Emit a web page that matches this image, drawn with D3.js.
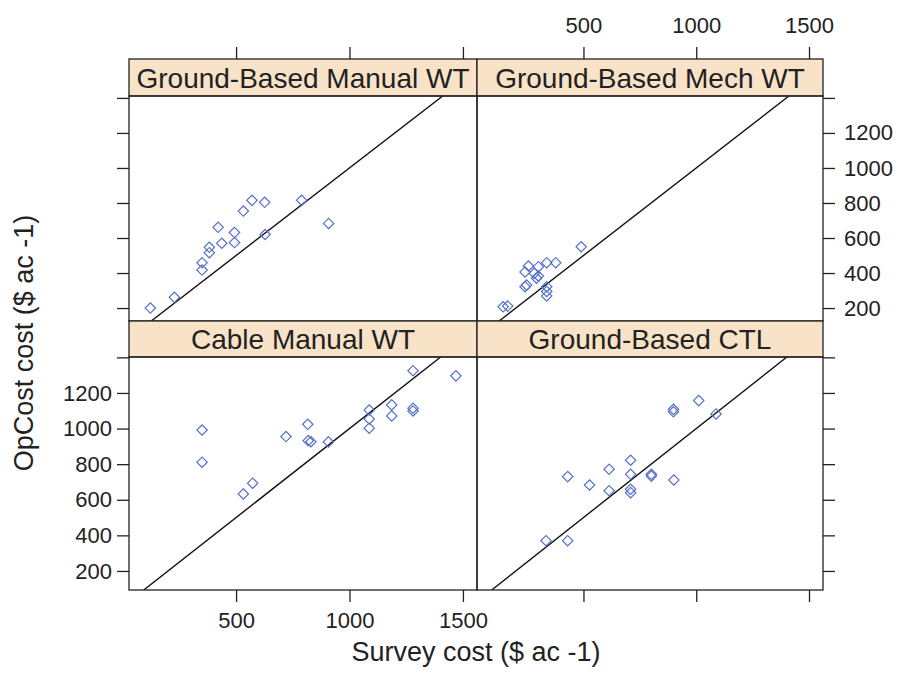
<!DOCTYPE html>
<html>
<head>
<meta charset="utf-8">
<script src="https://cdn.jsdelivr.net/npm/d3@7"></script>
<style>
  body { margin: 0; background: #fff; }
  svg text { font-family: "Liberation Sans", Arial, sans-serif; fill: #222; }
</style>
</head>
<body>
<div id="chart"></div>
<script>
// panel titles, in lattice order (top-left, top-right, bottom-left, bottom-right)
const panelNames = ["Ground-Based Manual WT", "Ground-Based Mech WT", "Cable Manual WT", "Ground-Based CTL"];

// survey cost (x) and OpCost cost (y), $ per acre
const gbManualSurvey = [122, 228, 350, 350, 382, 382, 421, 437, 493, 493, 532, 570, 626, 628, 789, 908];
const gbManualOpCost = [200, 261, 417, 459, 516, 547, 661, 570, 574, 631, 754, 815, 804, 620, 815, 683];

const gbMechSurvey = [144, 164, 241, 248, 241, 256, 282, 292, 300, 337, 377, 337, 337, 337, 490, 300];
const gbMechOpCost = [207, 211, 322, 331, 406, 440, 398, 370, 436, 459, 459, 322, 295, 269, 550, 383];

const cableManualSurvey = [350, 350, 532, 573, 720, 816, 818, 830, 907, 1087, 1087, 1087, 1186, 1186, 1280, 1280, 1280, 1469];
const cableManualOpCost = [992, 811, 633, 693, 955, 1024, 932, 926, 925, 1104, 1054, 1002, 1133, 1071, 1325, 1114, 1099, 1296];

const gbCtlSurvey = [334, 430, 430, 527, 614, 614, 709, 709, 709, 709, 801, 801, 901, 899, 899, 1011, 1088];
const gbCtlOpCost = [370, 370, 730, 683, 771, 651, 822, 743, 659, 640, 743, 733, 711, 1108, 1094, 1157, 1082];

const xTicks = [500, 1000, 1500];
const yTicks = [200, 400, 600, 800, 1000, 1200, 1400];
const yTickLabels = [200, 400, 600, 800, 1000, 1200];

const panelData = [
    [gbManualSurvey, gbManualOpCost],
    [gbMechSurvey, gbMechOpCost],
    [cableManualSurvey, cableManualOpCost],
    [gbCtlSurvey, gbCtlOpCost]
];

const width = 904, height = 673;
const cols = [[129, 477], [477, 823]];
const rows = [
    { strip: [59, 96], plot: [96, 321], domain: [126, 1411] },
    { strip: [321, 357], plot: [357, 590], domain: [93, 1402] }
];
const xDomain = [28, 1562];
const tickLen = 12;
const pointColor = "#5571c9";
const stripFill = "#f9e3c8";
const frameColor = "#222";

const svg = d3.select("#chart").append("svg")
    .attr("width", width)
    .attr("height", height);

svg.append("rect").attr("width", width).attr("height", height).attr("fill", "#fff");

const diamond = d3.symbol(d3.symbolSquare, 54);

panelNames.forEach((name, i) => {
    const r = Math.floor(i / 2), c = i % 2;
    const row = rows[r], col = cols[c];

    const x = d3.scaleLinear().domain(xDomain).range(col);
    const y = d3.scaleLinear().domain(row.domain).range([row.plot[1], row.plot[0]]);

    const clipId = "clip" + i;
    svg.append("clipPath").attr("id", clipId)
        .append("rect")
        .attr("x", col[0]).attr("y", row.plot[0])
        .attr("width", col[1] - col[0]).attr("height", row.plot[1] - row.plot[0]);

    const g = svg.append("g");

    // 1:1 reference line
    const lineMin = Math.max(xDomain[0], row.domain[0]);
    const lineMax = Math.min(xDomain[1], row.domain[1]);
    g.append("line")
        .attr("clip-path", `url(#${clipId})`)
        .attr("x1", x(lineMin)).attr("y1", y(lineMin))
        .attr("x2", x(lineMax)).attr("y2", y(lineMax))
        .attr("stroke", "#111")
        .attr("stroke-width", 1.4);

    // points
    const [xs, ys] = panelData[i];
    g.selectAll("path.pt")
        .data(xs.map((v, k) => [v, ys[k]]))
        .enter().append("path")
        .attr("class", "pt")
        .attr("d", diamond)
        .attr("transform", d => `translate(${x(d[0])},${y(d[1])}) rotate(45)`)
        .attr("fill", "none")
        .attr("stroke", pointColor)
        .attr("stroke-width", 1.2);

    // strip
    g.append("rect")
        .attr("x", col[0]).attr("y", row.strip[0])
        .attr("width", col[1] - col[0]).attr("height", row.strip[1] - row.strip[0])
        .attr("fill", stripFill)
        .attr("stroke", frameColor)
        .attr("stroke-width", 1.3);
    g.append("text")
        .attr("x", (col[0] + col[1]) / 2)
        .attr("y", row.strip[1] - 8)
        .attr("text-anchor", "middle")
        .attr("font-size", "28px")
        .text(name);

    // panel frame
    g.append("rect")
        .attr("x", col[0]).attr("y", row.plot[0])
        .attr("width", col[1] - col[0]).attr("height", row.plot[1] - row.plot[0])
        .attr("fill", "none")
        .attr("stroke", frameColor)
        .attr("stroke-width", 1.3);

    // y axes: left side on left column, right side on right column
    if (c === 0) {
        const ax = svg.append("g")
            .attr("transform", `translate(${col[0]},0)`)
            .call(d3.axisLeft(y).tickValues(yTicks).tickSize(tickLen).tickPadding(5)
                .tickFormat(d => (r === 1 && yTickLabels.includes(d)) ? d : ""));
        styleAxis(ax);
    } else {
        const ax = svg.append("g")
            .attr("transform", `translate(${col[1]},0)`)
            .call(d3.axisRight(y).tickValues(yTicks).tickSize(tickLen).tickPadding(9)
                .tickFormat(d => (r === 0 && yTickLabels.includes(d)) ? d : ""));
        styleAxis(ax);
    }

    // x axes: top over the top row, bottom under the bottom row
    if (r === 0) {
        const ax = svg.append("g")
            .attr("transform", `translate(0,${row.strip[0]})`)
            .call(d3.axisTop(x).tickValues(xTicks).tickSize(tickLen).tickPadding(14)
                .tickFormat(d => c === 1 ? d : ""));
        styleAxis(ax);
    } else {
        const ax = svg.append("g")
            .attr("transform", `translate(0,${row.plot[1]})`)
            .call(d3.axisBottom(x).tickValues(xTicks).tickSize(tickLen).tickPadding(10)
                .tickFormat(d => c === 0 ? d : ""));
        styleAxis(ax);
    }
});

function styleAxis(ax) {
    ax.select(".domain").remove();
    ax.selectAll(".tick line").attr("stroke", frameColor).attr("stroke-width", 1.3);
    ax.selectAll(".tick text")
        .attr("fill", "#222")
        .style("font-family", "'Liberation Sans', Arial, sans-serif")
        .style("font-size", "22px");
}

// axis titles
svg.append("text")
    .attr("x", (cols[0][0] + cols[1][1]) / 2)
    .attr("y", 661)
    .attr("text-anchor", "middle")
    .attr("font-size", "27px")
    .text("Survey cost ($ ac -1)");

svg.append("text")
    .attr("transform", `translate(33,${(rows[0].plot[0] + rows[1].plot[1]) / 2}) rotate(-90)`)
    .attr("text-anchor", "middle")
    .attr("font-size", "27px")
    .text("OpCost cost ($ ac -1)");
</script>
</body>
</html>
